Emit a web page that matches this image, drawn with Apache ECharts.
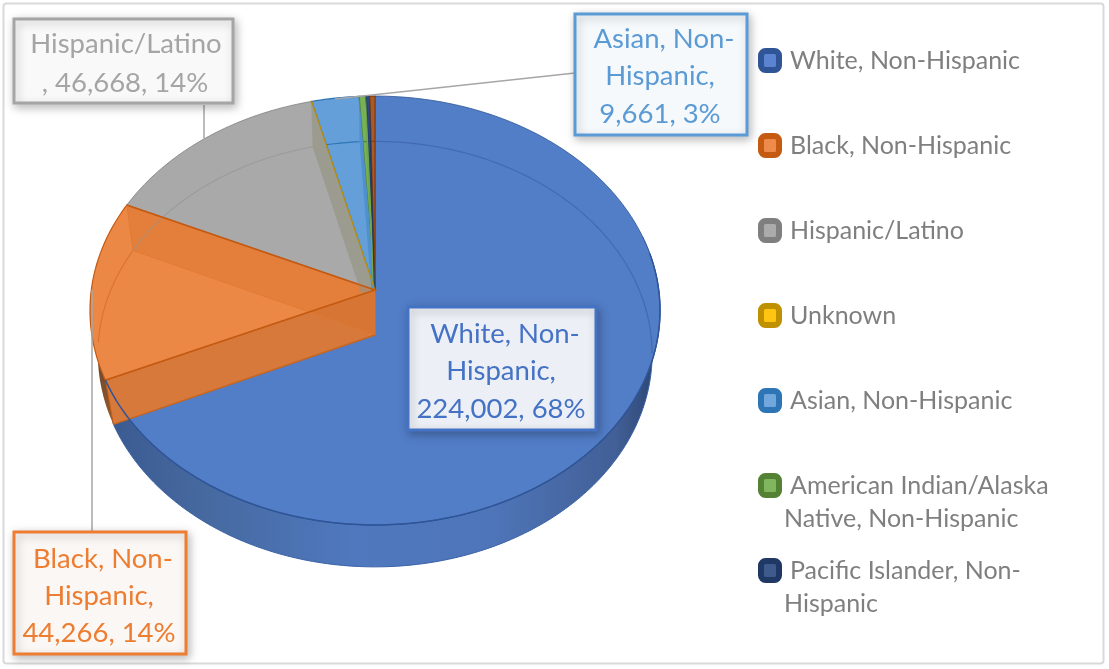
<!DOCTYPE html>
<html><head><meta charset="utf-8">
<style>html,body{margin:0;padding:0;background:#fff}#c{width:1109px;height:669px}</style>
<script src="https://cdn.jsdelivr.net/npm/echarts@6/dist/echarts.min.js"></script>
</head><body><div id="c"></div>
<script>
const names = ['White, Non-Hispanic','Black, Non-Hispanic','Hispanic/Latino','Unknown','Asian, Non-Hispanic','American Indian/Alaska Native, Non-Hispanic','Pacific Islander, Non-Hispanic','Other'];
const values = [224002,44266,46668,100,9661,1400,750,1040];
const faceColors = ['#527DC7','#EC8846','#A9A9A9','#FFC000','#649FD9','#78B054','#2A4A80','#A95A2C'];
const edgeColors = ['#2F5597','#C55A11','#7F7F7F','#BF9000','#2E75B6','#548235','#1F3864','#843C0C'];
const legendInner = ['#5A84CF','#EE8B4C','#ABABAB','#FFC512','#71A7DC','#80B65E','#3F5A8C'];
const legendFirst = ['White, Non-Hispanic','Black, Non-Hispanic','Hispanic/Latino','Unknown','Asian, Non-Hispanic','American Indian/Alaska','Pacific Islander, Non-'];
const legendSecond = ['','','','','','Native, Non-Hispanic','Hispanic'];
const labelNames = {0:['White, Non-','Hispanic,'],1:['Black, Non-','Hispanic,'],2:['Hispanic/Latino'],4:['Asian, Non-','Hispanic,']};

const FONT = 'Lato, "Open Sans", sans-serif';
const total = values.reduce((a,b)=>a+b,0);
const upper = {cx:375,y0:290,A:283.7,B:212.5,p:0.0956};
const lower = {cx:375,y0:335,A:276,B:211,p:0.09};
function P(e,deg){const t=deg*Math.PI/180,u=Math.sin(t),v=-Math.cos(t),d=1-e.p*v;return [e.cx+e.A*u/d,e.y0+e.B*v/d];}
function arc(e,a,b){const n=Math.max(2,Math.ceil(Math.abs(b-a))),r=[];for(let i=0;i<=n;i++)r.push(P(e,a+(b-a)*i/n));return r;}
const starts=[];let acc=0;values.forEach(v=>{starts.push(acc/total*360);acc+=v;});
const fmt=n=>n.toLocaleString('en-US');
const boxes={
 0:{x:408,y:307,w:188,h:123,color:'#4472C4',fill:'rgba(255,255,255,0.9)',cx:501,dx:[4,0,0],ly:[334,371,409]},
 1:{x:14,y:532,w:172,h:122,color:'#ED7D31',fill:'rgba(253,249,246,0.97)',cx:99,dx:[4,0,0],ly:[559,596,633]},
 2:{x:14,y:19,w:219,h:84,color:'#A5A5A5',fill:'rgba(251,251,251,0.97)',cx:125,dx:[1,0],ly:[44,83]},
 4:{x:575,y:14,w:172,h:121,color:'#5B9BD5',fill:'rgba(248,251,254,0.97)',cx:660,dx:[4,0,0],ly:[39,76,114]}
};
const leaders={1:[[92,290],[92,532]],2:[[204,105],[204,140]],4:[[575,73],[335,99]]};
const G=echarts.graphic;
function render(i){return function(params,api){
  const val=api.value(0),s=starts[i],e=s+val/total*360,kids=[];
  const poly=(pts,style,z2)=>kids.push({type:'polygon',shape:{points:pts},style,z2,silent:true});
  const line=(pts,stroke,w,z2)=>kids.push({type:'polyline',shape:{points:pts},style:{stroke,lineWidth:w,fill:null},z2,silent:true});
  poly([[upper.cx,upper.y0]].concat(arc(upper,s,e)),{fill:faceColors[i],stroke:edgeColors[i],lineWidth:i==0||i==2?0.8:1.2},20+i/10);
  if(i===0){
    poly(arc(upper,75,e).concat(arc(lower,e,75)),{fill:new G.LinearGradient(0,0,1,0,[
      {offset:0,color:'#3A5A90'},{offset:.18,color:'#46699F'},{offset:.45,color:'#4F78BE'},{offset:.7,color:'#4E75B8'},{offset:.92,color:'#425F96'},{offset:1,color:'#2A4470'}]),stroke:'#3A62A8',lineWidth:1},10);
    line(arc(upper,80,e),'#2F5597',1.5,50);
    line(arc(lower,0,95),'rgba(47,85,151,0.45)',1.2,30);
  }
  if(i===1){
    poly(arc(upper,s,272).concat(arc(lower,272,s)),{fill:new G.LinearGradient(0,1,0,0,[{offset:0,color:'#9A5A2A'},{offset:.4,color:'#6E4A30'},{offset:1,color:'#C55A11'}])},10);
    line(arc(lower,268,e),'rgba(214,110,40,0.8)',1.2,30);
    poly([[upper.cx,upper.y0],P(upper,s),P(lower,s),[lower.cx,lower.y0]],{fill:'#D6793B'},40);
    poly([[upper.cx,upper.y0],P(upper,e),P(lower,e),[lower.cx,lower.y0]],{fill:'rgba(214,112,42,0.4)',stroke:'rgba(226,120,50,0.8)',lineWidth:1},41);
    line([P(upper,s),[upper.cx,upper.y0],P(upper,e)],'#C55A11',1.6,45);
    line([P(lower,s),[lower.cx,lower.y0]],'#C9651F',1.4,45);
    line([P(upper,s),P(lower,s)],'#C55A11',1,45);
  }
  if(i>=2){
    const wall={2:'#9C9B90',3:'#BF9000',4:'#4F90CF',5:'#6FA84C',6:'#1F3864',7:'#843C0C'}[i];
    if(i!==3)poly([[upper.cx,upper.y0],P(upper,e),P(lower,e),[lower.cx,lower.y0]],{fill:wall},30+i/10);
    else line([[upper.cx,upper.y0],P(upper,e)],'#BF9000',1.2,38);
    line(arc(lower,s,e),i===2?'#9C9C9C':edgeColors[i],1.2,29);
  }
  if(leaders[i]) line(leaders[i],'#A6A6A6',1.5,60);
  if(boxes[i]){
    const b=boxes[i],tail=fmt(val)+', '+Math.round(val/total*100)+'%';
    const nm=labelNames[i],lines=nm.length===1?[nm[0],', '+tail]:nm.concat([tail]);
    kids.push({type:'rect',shape:{x:b.x,y:b.y,width:b.w,height:b.h},style:{fill:b.fill,stroke:b.color,lineWidth:3,shadowBlur:9,shadowColor:'rgba(0,0,0,0.25)',shadowOffsetX:2,shadowOffsetY:3},z2:70,silent:true});
    lines.forEach((t,k)=>kids.push({type:'text',style:{text:t,x:b.cx+b.dx[k],y:b.ly[k],fill:b.color,font:'27.5px '+FONT,align:'center',verticalAlign:'middle'},z2:71,silent:true}));
  }
  return {type:'group',children:kids};
};}
const legendTops=[49,134,219,304,389,474,559];
const series=names.map((n,i)=>({type:'custom',name:n,coordinateSystem:'none',renderItem:render(i),data:[[values[i]]],silent:true,animation:false,itemStyle:{color:i<7?legendInner[i]:faceColors[i]}}));
const legend=legendFirst.map((t,i)=>({
  show:true,left:758,top:legendTops[i]-1,orient:'vertical',padding:0,selectedMode:false,itemWidth:18,itemHeight:19,
  data:[{name:names[i],icon:'roundRect',itemStyle:{color:legendInner[i],borderColor:edgeColors[i],borderWidth:6}}],
  formatter:()=>t,
  textStyle:{fontFamily:FONT,fontSize:25,color:'#7F7F7F',padding:[0,0,0,6]}
}));
const graphic=[{type:'rect',shape:{x:3.5,y:3.5,width:1100,height:660,r:3},style:{fill:'#fff',stroke:'#D9D9D9',lineWidth:2},z:-10,silent:true}];
legendSecond.forEach((t,i)=>{if(t)graphic.push({type:'text',left:784,top:legendTops[i]+32,style:{text:t,font:'25px '+FONT,fill:'#7F7F7F'},silent:true});});
const chart=echarts.init(document.getElementById('c'),null,{renderer:'canvas'});
chart.setOption({animation:false,backgroundColor:'#fff',tooltip:{show:false},legend,graphic,series});
</script></body></html>
